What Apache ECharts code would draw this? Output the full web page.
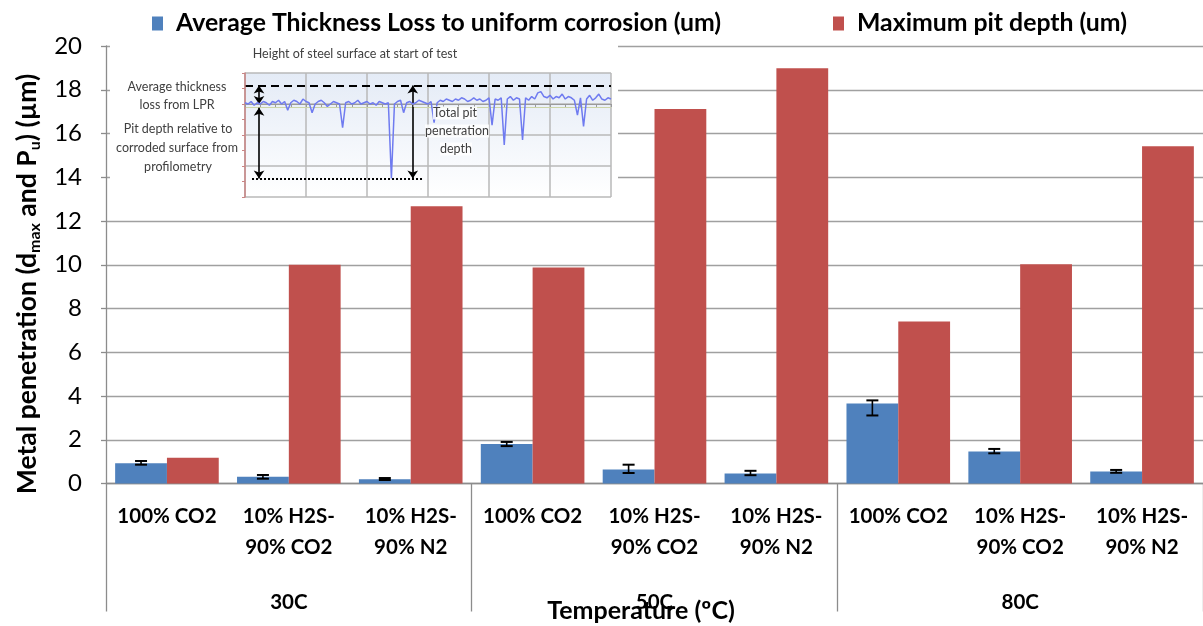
<!DOCTYPE html>
<html><head><meta charset="utf-8">
<script src="https://cdn.jsdelivr.net/npm/echarts@6/dist/echarts.min.js"></script>
<style>html,body{margin:0;padding:0;background:#fff}#c{width:1203px;height:626px}</style>
</head><body><div id="c"></div>
<script>
// ---- data ----
const categories = ['100% CO2', '10% H2S-\n90% CO2', '10% H2S-\n90% N2',
                    '100% CO2', '10% H2S-\n90% CO2', '10% H2S-\n90% N2',
                    '100% CO2', '10% H2S-\n90% CO2', '10% H2S-\n90% N2'];
const groups = ['30C', '50C', '80C'];
const seriesNames = ['Average Thickness Loss to uniform corrosion (um)', 'Maximum pit depth (um)'];
const avgLoss = [0.93, 0.31, 0.19, 1.81, 0.64, 0.46, 3.66, 1.46, 0.55];
const errLow  = [0.86, 0.22, 0.16, 1.71, 0.48, 0.38, 3.11, 1.38, 0.49];
const errHigh = [1.03, 0.39, 0.25, 1.90, 0.86, 0.58, 3.80, 1.58, 0.62];
const maxPit  = [1.18, 10.0, 12.68, 9.88, 17.12, 18.98, 7.41, 10.02, 15.42];
const yMin = 0, yMax = 20, yStep = 2;

// inset (profilometry sketch) values
const profile = [
  1, 0, 2, -1, 1, 0, 2, 1, -1, 2,
  1, 3, 0, 2, -5, 1, 3, 2, 0, 4,
  2, 1, -7, 0, 2, 3, 1, -2, 0, 2,
  1, 0, -19, 1, 2, 0, 1, 3, 0, 1,
  2, 0, 1, -1, 2, 1, 0, 1, -60, 0,
  2, 3, -7, 1, 2, 0, 1, 3, 2, 1,
  0, 2, -15, 1, 3, 2, 4, 3, 2, 4,
  3, 5, 4, 2, 3, 5, 3, 4, 2, 3,
  5, -17, 4, 3, 5, -33, 4, 6, 3, 5,
  4, -29, 5, 3, 6, 4, 9, 10, 6, 5,
  7, 4, 6, 5, 8, 4, 6, 5, 3, -9,
  5, -18, 4, 7, 3, 5, 8, 4, 3, 5,
  4
];
const insetSurface = 15;     // initial steel surface height
const insetCorroded = 0;     // average corroded surface
const insetPitBottom = -60;  // deepest pit
const insetTexts = {
  top: 'Height of steel surface at start of test',
  avg: ['Average thickness', 'loss from LPR'],
  pit: ['Pit depth relative to', 'corroded surface from', 'profilometry'],
  total: ['Total pit', 'penetration', 'depth']
};

// ---- chart ----
const chart = echarts.init(document.getElementById('c'));
const FONT = 'Lato';
const txt = (text, x, y, bg) => ({
  type: 'text', x: x, y: y, z: 30,
  style: { text: text, fill: '#404040', font: '12.5px ' + FONT, align: 'center', verticalAlign: 'middle',
           textAlign: 'center', textVerticalAlign: 'middle',
           backgroundColor: bg || 'transparent' }
});

const option = {
  animation: false,
  legend: [
    { data: [seriesNames[0]], left: 147, top: 6, itemWidth: 11, itemHeight: 14,
      icon: 'rect', selectedMode: false,
      textStyle: { fontFamily: FONT, fontWeight: 'bold', fontSize: 24.8, color: '#000', padding: [0, 0, 0, 8] } },
    { data: [seriesNames[1]], left: 828, top: 6, itemWidth: 11, itemHeight: 14,
      icon: 'rect', selectedMode: false,
      textStyle: { fontFamily: FONT, fontWeight: 'bold', fontSize: 24.8, color: '#000', padding: [0, 0, 0, 8] } }
  ],
  grid: [
    { left: 106, top: 46, width: 1105, height: 437.5, containLabel: false },
    { left: 245, top: 73, width: 366, height: 124, containLabel: false, z: 5 }
  ],
  xAxis: [
    { type: 'category', data: categories, gridIndex: 0,
      axisLine: { lineStyle: { color: '#8c8c8c', width: 1.3 } },
      axisTick: { show: false },
      axisLabel: { interval: 0, margin: 17, fontFamily: FONT, fontWeight: 'bold', fontSize: 20.5,
                   color: '#000', lineHeight: 31 } },
    { type: 'category', data: groups, gridIndex: 0, position: 'bottom',
      axisLine: { show: false },
      axisTick: { show: true, length: 128, lineStyle: { color: '#8c8c8c', width: 1.3 } },
      axisLabel: { interval: 0, margin: 108, fontFamily: FONT, fontWeight: 'bold', fontSize: 20.5, color: '#000' } },
    { type: 'value', gridIndex: 1, min: 0, max: 120, interval: 20, z: 5,
      axisLine: { lineStyle: { color: '#9a9a9a', width: 1.2 } },
      axisTick: { show: true, length: 3, lineStyle: { color: '#9a9a9a' } },
      minorTick: { show: true, splitNumber: 4, length: 3, lineStyle: { color: '#9a9a9a' } },
      axisLabel: { show: false },
      splitLine: { show: true, lineStyle: { color: '#b8b8b8', width: 1.5 } } }
  ],
  yAxis: [
    { type: 'value', gridIndex: 0, min: yMin, max: yMax, interval: yStep,
      axisLine: { show: true, lineStyle: { color: '#8c8c8c', width: 1.3 } },
      axisTick: { show: true, length: 5, lineStyle: { color: '#8c8c8c', width: 1.3 } },
      axisLabel: { margin: 24, fontFamily: FONT, fontSize: 24, color: '#000' },
      splitLine: { lineStyle: { color: '#a0a0a0', width: 1.3 } } },
    { type: 'value', gridIndex: 1, min: -75, max: 25, interval: 25, z: 5,
      axisLine: { show: true, lineStyle: { color: '#c98585', width: 1.5 } },
      axisTick: { show: true, length: 3, lineStyle: { color: '#c98585' } },
      minorTick: { show: true, splitNumber: 2, length: 3, lineStyle: { color: '#c98585' } },
      axisLabel: { show: false },
      splitLine: { show: true, lineStyle: { color: '#b8b8b8', width: 1.5 } } }
  ],
  series: [
    { name: seriesNames[0], type: 'bar', data: avgLoss, xAxisIndex: 0, yAxisIndex: 0,
      barGap: '0%', barCategoryGap: '15%', itemStyle: { color: '#4F81BD' }, z: 2 },
    { name: seriesNames[1], type: 'bar', data: maxPit, xAxisIndex: 0, yAxisIndex: 0,
      barGap: '0%', barCategoryGap: '15%', itemStyle: { color: '#C0504D' }, z: 2 },
    { name: 'err', type: 'custom', xAxisIndex: 0, yAxisIndex: 0, z: 4,
      data: categories.map((c, i) => [i, errLow[i], errHigh[i]]),
      encode: { x: 0, y: [1, 2] },
      renderItem: function (params, api) {
        const i = api.value(0);
        const lo = api.coord([i, api.value(1)]);
        const hi = api.coord([i, api.value(2)]);
        const band = api.size([1, 0])[0];
        const x = lo[0] - band * 0.85 / 4;
        const w = 6;
        const st = { stroke: '#000', lineWidth: 2 };
        return { type: 'group', children: [
          { type: 'line', shape: { x1: x, y1: lo[1], x2: x, y2: hi[1] }, style: { stroke: '#000', lineWidth: 1.6 } },
          { type: 'line', shape: { x1: x - w, y1: hi[1], x2: x + w, y2: hi[1] }, style: st },
          { type: 'line', shape: { x1: x - w, y1: lo[1], x2: x + w, y2: lo[1] }, style: st }
        ] };
      } },
    { name: 'profile', type: 'line', xAxisIndex: 2, yAxisIndex: 1, z: 10, clip: false,
      data: profile.map((v, i) => [i, v]), showSymbol: false, silent: true,
      lineStyle: { color: '#6f7bf0', width: 1.5 },
      markLine: {
        silent: true, symbol: ['none', 'none'], symbolSize: 8, label: { show: false },
        animation: false,
        data: [
          [{ coord: [0, insetCorroded], lineStyle: { color: '#e59a88', width: 1.2, type: 'solid' } }, { coord: [120, insetCorroded] }],
          [{ coord: [0, insetCorroded - 3], lineStyle: { color: '#cdd5a8', width: 1.2, type: 'solid' } }, { coord: [120, insetCorroded - 3] }],
          [{ coord: [0, insetSurface], lineStyle: { color: '#000', width: 2, type: [8, 5] } }, { coord: [120, insetSurface] }],
          [{ coord: [2.3, insetPitBottom], lineStyle: { color: '#000', width: 2, type: [2, 2] } }, { coord: [58.5, insetPitBottom] }],
          [{ coord: [4.6, insetSurface], symbol: 'arrow', lineStyle: { color: '#000', width: 1.6, type: 'solid' } }, { coord: [4.6, insetCorroded], symbol: 'arrow' }],
          [{ coord: [4.6, insetCorroded - 3], symbol: 'arrow', lineStyle: { color: '#000', width: 1.6, type: 'solid' } }, { coord: [4.6, insetPitBottom], symbol: 'arrow' }],
          [{ coord: [55, insetSurface], symbol: 'arrow', lineStyle: { color: '#000', width: 1.6, type: 'solid' } }, { coord: [55, insetPitBottom], symbol: 'arrow' }],
          [{ coord: [36, 33], symbol: 'none', lineStyle: { color: '#000', width: 1.3, type: 'solid' } }, { coord: [61.5, 17.5], symbol: 'arrow' }]
        ]
      } }
  ],
  graphic: [
    { type: 'rect', z: 1, shape: { x: 110, y: 45, width: 508, height: 156 }, style: { fill: '#fff' } },
    { type: 'rect', z: 2, shape: { x: 245, y: 73, width: 366, height: 124 },
      style: { fill: new echarts.graphic.LinearGradient(0, 0, 0, 1, [
        { offset: 0, color: '#e4ebf6' }, { offset: 1, color: '#ffffff' }]) } },
    txt(insetTexts.top, 355, 54),
    txt(insetTexts.avg[0], 177, 87), txt(insetTexts.avg[1], 177, 105),
    txt(insetTexts.pit[0], 178, 129), txt(insetTexts.pit[1], 177, 148), txt(insetTexts.pit[2], 178, 167),
    txt(insetTexts.total[0], 455, 113, 'rgba(255,255,255,0.85)'),
    txt(insetTexts.total[1], 457, 131, 'rgba(255,255,255,0.85)'),
    txt(insetTexts.total[2], 456, 149, 'rgba(255,255,255,0.85)'),
    { type: 'text', x: 27, y: 284, rotation: Math.PI / 2, z: 30,
      style: {
        text: '{n|Metal penetration (d}{s|max}{n| and P}{s|u}{n|) (µm)}',
        align: 'center', verticalAlign: 'middle', textAlign: 'center', textVerticalAlign: 'middle',
        fill: '#000',
        rich: {
          n: { fontFamily: FONT, fontWeight: 'bold', fontSize: 26.5, lineHeight: 32, fill: '#000', color: '#000', verticalAlign: 'middle' },
          s: { fontFamily: FONT, fontWeight: 'bold', fontSize: 16, lineHeight: 32, fill: '#000', color: '#000', verticalAlign: 'bottom' }
        }
      } },
    { type: 'text', x: 641, y: 611, z: 30,
      style: { text: 'Temperature (ºC)', fill: '#000', font: 'bold 25px ' + FONT,
               align: 'center', verticalAlign: 'middle', textAlign: 'center', textVerticalAlign: 'middle' } }
  ]
};
chart.setOption(option);
</script>
</body></html>
